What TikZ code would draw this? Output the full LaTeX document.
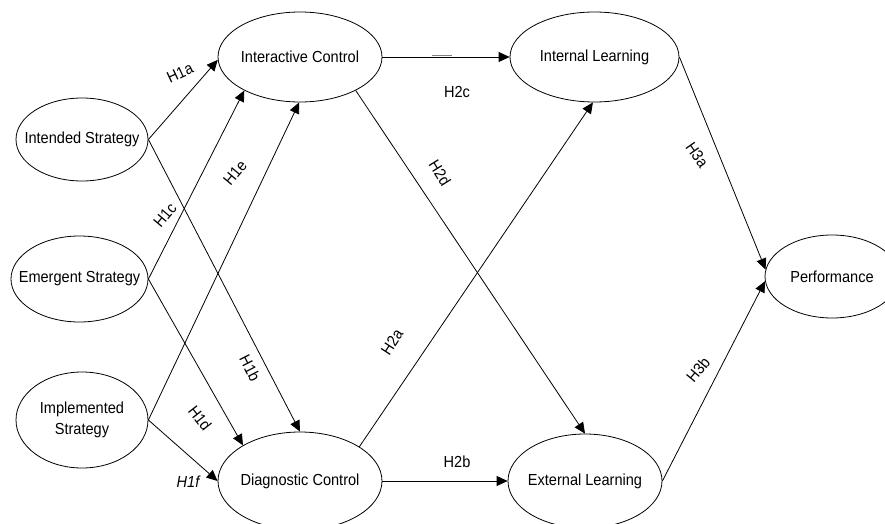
\documentclass[tikz,border=0pt]{standalone}
\usepackage{fontspec}
\setmainfont[FakeStretch=0.91]{Liberation Sans}
\usetikzlibrary{arrows.meta,shapes.geometric}
\begin{document}
\begin{tikzpicture}[x=1pt,y=-1pt,
  ell/.style={ellipse, draw, line width=0.8pt, inner sep=0pt},
  conn/.style={line width=0.8pt, -{Triangle[length=11pt,width=10pt]}},
  hlab/.style={inner sep=0pt, font=\fontsize{16}{18}\selectfont},
  every label/.style={font=\fontsize{16}{21}\selectfont, align=center, inner sep=0pt}]
\useasboundingbox (0,0) rectangle (885,524);
\clip (0,0) rectangle (885,524);
% nodes
\node[ell, minimum width=132pt, minimum height=83pt, label=center:{Intended Strategy}] (is) at (82,139.5) {};
\node[ell, minimum width=137pt, minimum height=86pt, label=center:{Emergent Strategy}] (es) at (79.5,279) {};
\node[ell, minimum width=132pt, minimum height=96pt, label=center:{Implemented\\Strategy}] (ims) at (82,420) {};
\node[ell, minimum width=164pt, minimum height=90pt, label=center:{Interactive Control}] (ic) at (300,57) {};
\node[ell, minimum width=164pt, minimum height=98pt, label=center:{Diagnostic Control}] (dc) at (300,481) {};
\node[ell, minimum width=169pt, minimum height=90pt, label=center:{Internal Learning}] (il) at (594.5,57) {};
\node[ell, minimum width=154pt, minimum height=94pt, label=center:{External Learning}] (el) at (585,481) {};
\node[ell, minimum width=134pt, minimum height=83pt, label=center:{Performance}] (pf) at (832,276.5) {};
% connectors
\draw[conn] (is.east) -- (ic.182);
\draw[conn] (is.east) -- (dc.90);
\draw[conn] (es.east) -- (ic.211);
\draw[conn] (es.east) -- (dc.148);
\draw[conn] (ims.east) -- (ic.269);
\draw[conn] (ims.east) -- (dc.west);
\draw[conn] (ic.east) -- (il.west);
\draw[conn] (ic.-31) -- (el.90);
\draw[conn] (dc.30.7) -- (il.268);
\draw[conn] (dc.east) -- (el.west);
\draw[conn] (il.east) -- (pf.174);
\draw[conn] (el.east) -- (pf.184);
% small grey mark on H2c line
\draw[gray, line width=1.6pt] (432,55.5) -- (452,55.5);
% labels
\node[hlab, rotate=25] (h1a) at (180,73) {H1a};
\node[hlab, rotate=-63] (h1b) at (250,368) {H1b};
\node[hlab, rotate=50] (h1c) at (165,215) {H1c};
\node[hlab, rotate=-52] (h1d) at (200,418) {H1d};
\node[hlab, rotate=50] (h1e) at (235,173) {H1e};
\node[hlab, font=\fontsize{16}{18}\selectfont\itshape] (h1f) at (188,482) {H1f};
\node[hlab, rotate=57] (h2a) at (392,342) {H2a};
\node[hlab] (h2b) at (457,462) {H2b};
\node[hlab] (h2c) at (457,92) {H2c};
\node[hlab, rotate=-58] (h2d) at (440,173) {H2d};
\node[hlab, rotate=-55] (h3a) at (697,155) {H3a};
\node[hlab, rotate=50] (h3b) at (698,370) {H3b};
\end{tikzpicture}
\end{document}
